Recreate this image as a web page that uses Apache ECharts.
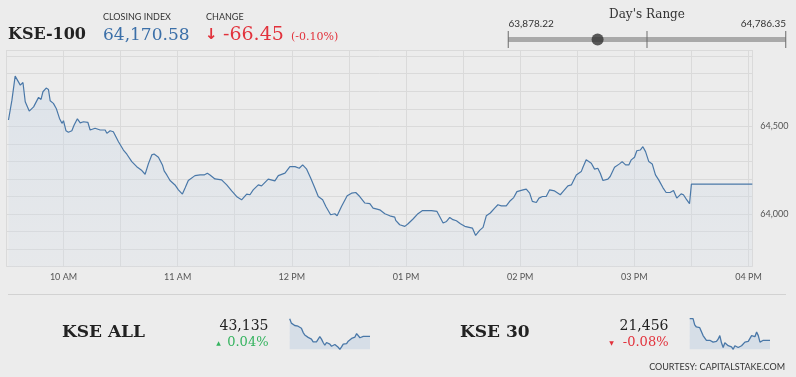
<!DOCTYPE html>
<html><head><meta charset="utf-8">
<script src="https://cdn.jsdelivr.net/npm/echarts@6/dist/echarts.min.js"></script>
<style>html,body{margin:0;padding:0;background:#ececec;}#c{width:796px;height:377px;}</style>
</head><body><div id="c"></div>
<script>
// ---- data ----
const indexName = 'KSE-100';
const closingIndex = 64170.58;
const change = -66.45;
const changePct = -0.10;
const dayLow = 63878.22;
const dayHigh = 64786.35;

// minutes since midnight
const times = [571.1,572.9,574.6,575.5,577.3,578.7,579.9,582.0,584.3,586.9,588.2,589.2,590.9,592.1,593.0,594.7,596.2,597.9,599.2,600.0,601.3,602.6,604.4,605.6,607.3,608.8,610.5,612.8,614.0,616.6,619.3,621.9,622.8,624.5,626.2,628.9,631.5,633.3,635.9,638.5,641.2,642.9,644.6,646.4,647.6,649.9,652.0,652.9,654.3,656.0,658.6,660.4,662.5,663.9,665.6,669.1,671.8,673.9,675.6,677.0,679.6,683.1,685.8,688.4,691.3,693.6,696.3,698.0,699.7,702.4,704.1,705.0,707.6,711.1,712.9,716.4,719.0,721.7,723.9,725.7,727.8,729.9,732.1,733.9,736.2,737.9,740.4,742.6,743.8,746.1,749.1,751.4,753.6,755.7,758.4,761.0,762.7,764.8,766.2,768.9,771.5,774.1,774.6,776.7,779.4,781.1,783.7,786.3,788.7,790.8,793.4,794.3,796.3,797.7,799.5,801.3,803.0,804.7,806.5,808.6,810.9,812.6,814.9,816.6,818.7,820.5,822.2,824.3,826.6,828.3,830.1,832.7,834.8,836.6,838.3,841.5,843.2,845.0,846.4,848.5,849.9,851.7,853.7,855.5,858.1,861.1,862.5,865.1,866.9,869.5,872.1,873.0,874.7,875.6,877.4,879.1,880.8,882.1,883.5,886.1,887.3,889.6,892.2,893.6,895.4,897.1,898.4,900.1,901.3,903.1,904.5,905.9,907.6,909.4,911.1,912.8,915.0,916.7,918.8,920.6,922.3,924.6,925.8,927.3,929.0,929.6,930.0,962.0];
const values = [64536,64649,64786,64775,64735,64750,64640,64587,64611,64665,64653,64697,64718,64710,64646,64631,64602,64545,64517,64532,64475,64466,64475,64507,64543,64520,64526,64523,64479,64489,64479,64479,64460,64475,64469,64412,64365,64341,64299,64270,64248,64227,64286,64337,64342,64324,64280,64246,64223,64191,64166,64138,64114,64148,64191,64219,64223,64223,64233,64223,64200,64195,64166,64132,64097,64081,64114,64110,64138,64166,64161,64166,64199,64189,64219,64233,64270,64270,64261,64280,64256,64205,64148,64100,64081,64043,63996,64002,63990,64043,64104,64119,64123,64100,64063,64059,64034,64028,64024,64002,63990,63983,63964,63939,63930,63945,63972,64002,64020,64020,64020,64009,64015,63986,63949,63958,63981,63968,63962,63945,63930,63926,63920,63878,63907,63924,63990,64006,64034,64053,64047,64047,64076,64094,64128,64138,64142,64119,64072,64066,64091,64100,64100,64138,64132,64110,64128,64161,64166,64223,64242,64267,64309,64314,64290,64256,64261,64233,64191,64199,64214,64267,64286,64299,64280,64280,64309,64324,64361,64365,64384,64356,64299,64286,64223,64195,64151,64123,64123,64134,64091,64115,64110,64085,64059,64052,64170.58,64170.58];

const yTicksShown = [64000, 64500];

const kseAllName = 'KSE ALL';
const kseAllValue = 43135;
const kseAllPct = 0.04;
const kseAllSpark = [43239,43213,43223,43199,43193,43195,43187,43183,43159,43143,43147,43129,43127,43119,43103,43093,43103,43113,43133,43119,43099,43083,43099,43093,43089,43077,43083,43087,43079,43071,43059,43073,43089,43097,43093,43107,43103,43123,43127,43131,43151,43147,43127,43121,43135,43135,43135,43135,43135];

const kse30Name = 'KSE 30';
const kse30Value = 21456;
const kse30Pct = -0.08;
const kse30Spark = [21516,21511,21516,21499,21493,21491,21491,21486,21469,21473,21456,21461,21456,21456,21451,21446,21453,21459,21469,21449,21436,21449,21446,21441,21436,21438,21431,21441,21439,21436,21431,21441,21446,21451,21456,21453,21456,21469,21473,21466,21479,21469,21451,21446,21456,21456,21456,21456,21456];

// ---- helpers ----
const fmt = (v, d) => v.toLocaleString('en-US', {minimumFractionDigits: d, maximumFractionDigits: d});
const SERIF = '"DejaVu Serif", serif';
const SANS = 'Lato, "Noto Sans", sans-serif';
const BLUE = '#4a78a8';
const RED = '#e2323c';
const GREEN = '#35b35f';

const chart = echarts.init(document.getElementById('c'), null, {renderer: 'canvas'});
const mainData = times.map((t, i) => [t, values[i]]);
const range = dayHigh - dayLow;

function spark(gridIndex, data) {
  return {
    type: 'line', xAxisIndex: gridIndex, yAxisIndex: gridIndex,
    data: data, symbol: 'none', smooth: false,
    lineStyle: {color: BLUE, width: 1.3},
    areaStyle: {color: '#d6dee7', opacity: 1, origin: 'start'},
    silent: true, animation: false
  };
}

const option = {
  backgroundColor: '#ececec',
  animation: false,
  grid: [
    {left: 6.4, right: 43.7, top: 50, bottom: 110.3, containLabel: false},
    {left: 508.3, width: 277.4, top: 31, height: 17},
    {left: 289.7, width: 80.3, top: 318.7, height: 30.6},
    {left: 689.7, width: 80.3, top: 318.7, height: 30.6}
  ],
  xAxis: [
    {gridIndex: 0, type: 'value', min: 570, max: 962, interval: 30,
     axisLine: {show: false}, axisTick: {show: false},
     splitLine: {show: true, lineStyle: {color: '#dadada', width: 1}},
     axisLabel: {color: '#555', fontFamily: SANS, fontSize: 9, margin: 6,
       formatter: v => {
         if (v % 60 !== 0) return '';
         const h = v / 60; const hh = h > 12 ? h - 12 : h;
         return String(hh).padStart(2, '0') + ' ' + (h < 12 ? 'AM' : 'PM');
       }}},
    {gridIndex: 1, type: 'value', min: 0, max: range, interval: range / 2, show: false},
    {gridIndex: 2, type: 'category', boundaryGap: false, data: kseAllSpark.map((_, i) => i), show: false},
    {gridIndex: 3, type: 'category', boundaryGap: false, data: kse30Spark.map((_, i) => i), show: false}
  ],
  yAxis: [
    {gridIndex: 0, type: 'value', position: 'right', min: 63700, max: 64935, interval: 100,
     axisLine: {show: false}, axisTick: {show: false},
     splitLine: {show: true, lineStyle: {color: '#dadada', width: 1}},
     axisLabel: {color: '#555', fontFamily: SANS, fontSize: 9, margin: 8,
       formatter: v => yTicksShown.includes(v) ? fmt(v, 0) : ''}},
    {gridIndex: 1, type: 'value', min: -1, max: 1, show: false},
    {gridIndex: 2, type: 'value', min: 'dataMin', max: 'dataMax', show: false},
    {gridIndex: 3, type: 'value', min: 'dataMin', max: 'dataMax', show: false}
  ],
  series: [
    {type: 'line', xAxisIndex: 0, yAxisIndex: 0, data: mainData, symbol: 'none',
     lineStyle: {color: BLUE, width: 1.2},
     areaStyle: {origin: 'start', color: new echarts.graphic.LinearGradient(0, 0, 0, 1, [
       {offset: 0, color: 'rgba(196,212,230,0.55)'}, {offset: 1, color: 'rgba(214,222,232,0.35)'}])}},
    // day's range bar
    {type: 'line', xAxisIndex: 1, yAxisIndex: 1, data: [[0, 0], [range, 0]], symbol: 'none',
     lineStyle: {color: '#a9a9a9', width: 5, cap: 'butt'}, z: 1, silent: true},
    {type: 'scatter', xAxisIndex: 1, yAxisIndex: 1, data: [[0, 0], [range / 2, 0], [range, 0]],
     symbol: 'rect', symbolSize: [1.2, 17], itemStyle: {color: '#666'}, z: 3, silent: true},
    {type: 'scatter', xAxisIndex: 1, yAxisIndex: 1, data: [[closingIndex - dayLow, 0]],
     symbol: 'circle', symbolSize: 12, itemStyle: {color: '#333'}, z: 4, silent: true},
    spark(2, kseAllSpark),
    spark(3, kse30Spark)
  ],
  graphic: [
    {type: 'text', left: 8, top: 27, style: {text: indexName, font: 'bold 16px ' + SERIF, fill: '#222'}},
    {type: 'text', left: 103, top: 13, style: {text: 'CLOSING INDEX', font: '9px ' + SANS, fill: '#333'}},
    {type: 'text', left: 103, top: 27, style: {text: fmt(closingIndex, 2), font: '17px ' + SERIF, fill: '#3b6fa8'}},
    {type: 'text', left: 206, top: 13, style: {text: 'CHANGE', font: '9px ' + SANS, fill: '#333'}},
    {type: 'text', left: 205, top: 28, style: {text: '↓', font: 'bold 15px "DejaVu Sans"', fill: RED}},
    {type: 'text', left: 223, top: 26, style: {text: (change < 0 ? '-' : '+') + fmt(Math.abs(change), 2), font: '19px ' + SERIF, fill: RED}},
    {type: 'text', left: 291, top: 32, style: {text: '(' + (changePct < 0 ? '-' : '+') + fmt(Math.abs(changePct), 2) + '%)', font: '11px ' + SERIF, fill: RED}},
    {type: 'text', x: 647, y: 15, style: {text: "Day's Range", font: '12px ' + SERIF, fill: '#333', textAlign: 'center', textVerticalAlign: 'middle'}},
    {type: 'text', x: 508.5, y: 24, style: {text: fmt(dayLow, 2), font: '10px ' + SANS, fill: '#333', textAlign: 'left', textVerticalAlign: 'middle'}},
    {type: 'text', x: 786, y: 24, style: {text: fmt(dayHigh, 2), font: '10px ' + SANS, fill: '#333', textAlign: 'right', textVerticalAlign: 'middle'}},
    {type: 'line', shape: {x1: 8, y1: 294.5, x2: 786, y2: 294.5}, style: {stroke: '#d2d2d2', lineWidth: 1}},
    {type: 'text', x: 62, y: 333, style: {text: kseAllName, font: 'bold 17px ' + SERIF, fill: '#222', textVerticalAlign: 'middle'}},
    {type: 'text', x: 268.5, y: 326, style: {text: fmt(kseAllValue, 0), font: '14px ' + SERIF, fill: '#222', textAlign: 'right', textVerticalAlign: 'middle'}},
    {type: 'text', x: 268.5, y: 342.5, style: {text: fmt(Math.abs(kseAllPct), 2) + '%', font: '13px ' + SERIF, fill: GREEN, textAlign: 'right', textVerticalAlign: 'middle'}},
    {type: 'text', x: 218.5, y: 343, style: {text: '▲', font: '6px "DejaVu Sans"', fill: GREEN, textAlign: 'center', textVerticalAlign: 'middle'}},
    {type: 'text', x: 460, y: 333, style: {text: kse30Name, font: 'bold 17px ' + SERIF, fill: '#222', textVerticalAlign: 'middle'}},
    {type: 'text', x: 668.5, y: 326, style: {text: fmt(kse30Value, 0), font: '14px ' + SERIF, fill: '#222', textAlign: 'right', textVerticalAlign: 'middle'}},
    {type: 'text', x: 668.5, y: 342.5, style: {text: (kse30Pct < 0 ? '-' : '') + fmt(Math.abs(kse30Pct), 2) + '%', font: '13px ' + SERIF, fill: RED, textAlign: 'right', textVerticalAlign: 'middle'}},
    {type: 'text', x: 611.5, y: 343, style: {text: '▼', font: '6px "DejaVu Sans"', fill: RED, textAlign: 'center', textVerticalAlign: 'middle'}},
    {type: 'text', x: 785, y: 367.5, style: {text: 'COURTESY: CAPITALSTAKE.COM', font: '9px ' + SANS, fill: '#333', textAlign: 'right', textVerticalAlign: 'middle'}}
  ]
};
chart.setOption(option);
</script></body></html>
